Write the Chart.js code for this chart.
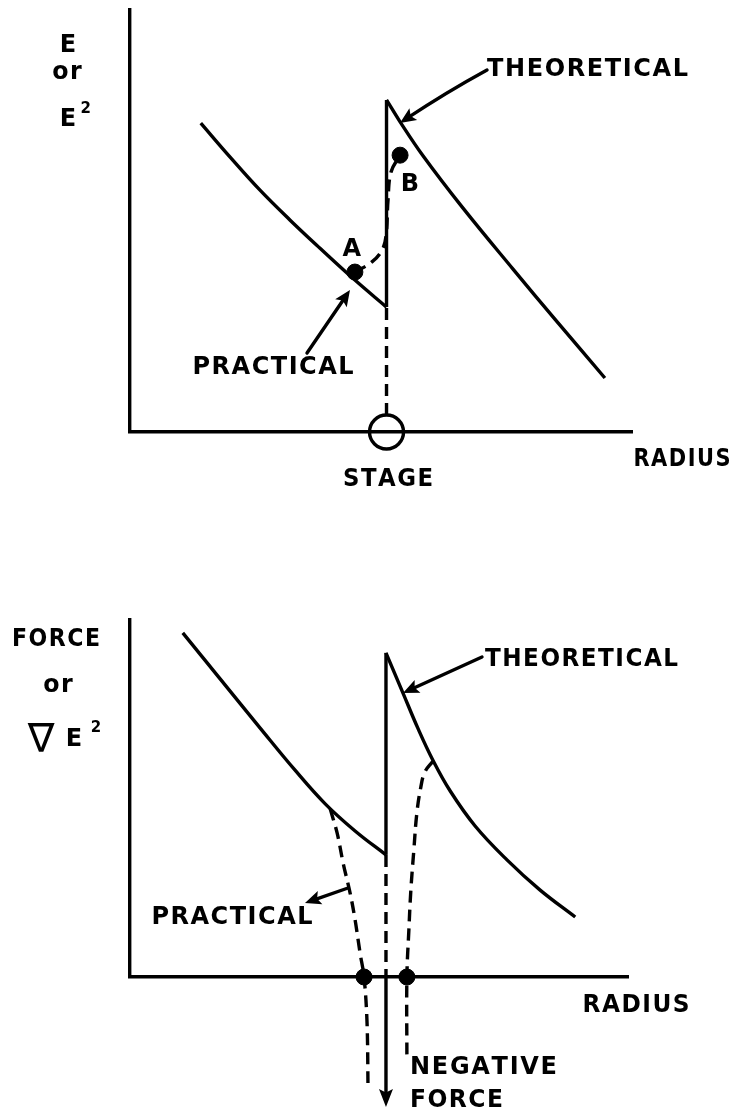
<!DOCTYPE html>
<html><head><meta charset="utf-8">
<script src="https://cdn.jsdelivr.net/npm/chart.js@4.4.1/dist/chart.umd.min.js"></script>
<style>
html,body{margin:0;padding:0;background:#fff;}
#wrap{position:relative;width:734px;height:1110px;overflow:hidden;background:#fff;}
canvas{position:absolute;left:0;}
#top{top:0;} #bot{top:560px;}
</style></head><body>
<div id="wrap"><canvas id="top" width="734" height="500"></canvas><canvas id="bot" width="734" height="550"></canvas></div>
<script>
// ---------- DATA (x = radius, y = E / force; arbitrary units) ----------
// Upper panel: E or E^2 vs radius
const topTheoryLeft  = [[1.41,7.32],[1.99,6.52],[2.59,5.73],[3.19,5.02],[3.78,4.36],[4.48,3.60],[5.11,2.96]];
const topJump        = [[5.11,2.96],[5.11,7.87]];
const topTheoryRight = [[5.11,7.87],[5.38,7.35],[5.84,6.54],[6.63,5.31],[7.63,3.86],[8.51,2.61],[9.46,1.28]];
const topPractical   = [[4.48,3.79],[4.82,4.03],[5.02,4.31],[5.10,4.64],[5.14,5.50],[5.20,6.16],[5.38,6.56]];
const topStageDrop   = [[5.11,2.94],[5.11,0.40]];
const topPointsAB    = [[4.48,3.79],[5.38,6.56]];
const topStage       = [[5.11,0]];

// Lower panel: force or grad E^2 vs radius
const botTheoryLeft     = [[1.06,9.64],[1.81,8.35],[2.61,6.98],[3.31,5.80],[3.92,4.85],[4.52,4.09],[5.14,3.42]];
const botJump           = [[5.14,3.42],[5.14,9.08]];
const botTheoryRight    = [[5.14,9.08],[5.48,7.96],[5.78,6.97],[6.08,6.08],[6.43,5.21],[6.93,4.23],[7.57,3.28],[8.23,2.44],[8.94,1.68]];
const botPracticalLeft  = [[4.02,4.71],[4.16,4.03],[4.28,3.19],[4.42,2.35],[4.52,1.60],[4.62,0.67],[4.70,0],[4.76,-1.29],[4.78,-3.17]];
const botPracticalRight = [[6.08,6.04],[5.92,5.74],[5.84,5.32],[5.76,4.59],[5.70,3.56],[5.64,2.44],[5.60,1.32],[5.56,0],[5.56,-2.24]];
const botStageDrop      = [[5.14,3.42],[5.14,0]];
const botNegative       = [[5.14,0],[5.14,-3.25]];
const botCrossings      = [[4.70,0],[5.56,0]];

// ---------- helpers ----------
const FONT = '"DejaVu Sans", "Liberation Sans", sans-serif';
const LW = 3.4;
const xy = a => a.map(p => ({x:p[0], y:p[1]}));

function line(data, opts={}) {
  return Object.assign({
    data: xy(data), showLine: true, borderColor: '#000', borderWidth: LW,
    pointRadius: 0, tension: 0.4, clip: false, fill: false,
    borderCapStyle: 'butt', borderJoinStyle: 'round'
  }, opts);
}
function dots(data, r, opts={}) {
  return Object.assign({
    data: xy(data), showLine: false, pointRadius: r, pointBackgroundColor: '#000',
    pointBorderColor: '#000', pointBorderWidth: 1, clip: false
  }, opts);
}
function P(chart, p){ return [chart.scales.x.getPixelForValue(p[0]), chart.scales.y.getPixelForValue(p[1])]; }

function drawLabel(ctx, chart, L){
  const [x,y] = P(chart, L.at);
  const size = L.size || 24;
  ctx.font = `${L.weight || 'bold'} ${size}px ${L.family || FONT}`;
  const chars = [...L.text];
  let ws = chars.map(c => ctx.measureText(c).width);
  let tot = ws.reduce((a,b)=>a+b,0);
  const w = L.width || tot;
  const n = chars.length;
  let sx = 1;
  if (n > 1 && (w - tot)/(n-1) < 1.5) { sx = (w - 1.5*(n-1)) / tot; ws = ws.map(v => v*sx); tot *= sx; }
  const sp = n > 1 ? (w - tot)/(n-1) : 0;
  let cx = L.align === 'center' ? x - w/2 : x;
  const base = y + (L.cap || 0.365) * size;
  ctx.textAlign = 'left'; ctx.textBaseline = 'alphabetic'; ctx.fillStyle = '#000';
  chars.forEach((c,i) => {
    ctx.save(); ctx.translate(cx, base); ctx.scale(sx, 1); ctx.fillText(c, 0, 0); ctx.restore();
    cx += ws[i] + sp;
  });
}
function drawArrow(ctx, chart, A){
  const p0 = P(chart, A.from), p1 = P(chart, A.to);
  const c = A.via ? P(chart, A.via) : null;
  const dir = c ? [p1[0]-c[0], p1[1]-c[1]] : [p1[0]-p0[0], p1[1]-p0[1]];
  const len = Math.hypot(dir[0], dir[1]); const ux = dir[0]/len, uy = dir[1]/len;
  const hl = A.head || 16, hw = A.hw || 7;
  if (!A.headOnly) {
    ctx.strokeStyle = '#000'; ctx.lineWidth = A.lw || LW; ctx.lineCap = 'round';
    ctx.beginPath(); ctx.moveTo(p0[0], p0[1]);
    const ex = p1[0]-ux*hl*0.6, ey = p1[1]-uy*hl*0.6;
    if (c) ctx.quadraticCurveTo(c[0], c[1], ex, ey); else ctx.lineTo(ex, ey);
    ctx.stroke();
  }
  ctx.beginPath(); ctx.moveTo(p1[0], p1[1]);
  ctx.lineTo(p1[0]-ux*hl - uy*hw, p1[1]-uy*hl + ux*hw);
  ctx.lineTo(p1[0]-ux*hl*0.8, p1[1]-uy*hl*0.8);
  ctx.lineTo(p1[0]-ux*hl + uy*hw, p1[1]-uy*hl - ux*hw);
  ctx.closePath(); ctx.fillStyle = '#000'; ctx.fill();
}
function sketchPlugin(cfg){
  return {
    id: 'sketch',
    afterDraw(chart){
      const ctx = chart.ctx; ctx.save();
      (cfg.arrows||[]).forEach(a => drawArrow(ctx, chart, a));
      (cfg.labels||[]).forEach(l => drawLabel(ctx, chart, l));
      ctx.restore();
    }
  };
}
function axis(){
  return { type:'linear', min:0, max:10,
    grid:{display:false, drawTicks:false}, ticks:{display:false},
    border:{display:true, color:'#000', width:LW} };
}
function makeChart(id, datasets, padding, cfg){
  return new Chart(document.getElementById(id), {
    type: 'scatter',
    data: { datasets },
    options: {
      responsive:false, animation:false, events:[],
      layout:{ padding, autoPadding:false },
      plugins:{ legend:{display:false}, tooltip:{enabled:false} },
      scales:{ x: axis(), y: axis() }
    },
    plugins:[ sketchPlugin(cfg) ]
  });
}
const DASH = [12,7];

// ---------- upper panel ----------
makeChart('top', [
  line(topTheoryLeft),
  line(topJump, {tension:0}),
  line(topTheoryRight),
  line(topPractical, {borderDash:DASH}),
  line(topStageDrop, {borderDash:DASH, tension:0}),
  dots(topPointsAB, 8),
  dots(topStage, 17, {pointBackgroundColor:'rgba(0,0,0,0)', pointBorderWidth:LW})
], {left:130, right:102, top:10, bottom:68}, {
  labels:[
    {text:'E',  at:[-1.235, 9.22], align:'center'},
    {text:'or', at:[-1.255, 8.58], align:'center', size:25},
    {text:'E',  at:[-1.235, 7.46], align:'center'},
    {text:'2',  at:[-0.88, 7.70], align:'center', size:15},
    {text:'THEORETICAL', at:[7.112, 8.65], width:201},
    {text:'A', at:[4.42, 4.384], align:'center'},
    {text:'B', at:[5.578, 5.924], align:'center'},
    {text:'PRACTICAL', at:[2.849, 1.588], align:'center', width:161},
    {text:'STAGE', at:[5.139, -1.066], align:'center', width:90},
    {text:'RADIUS', at:[10.996, -0.592], align:'center', width:97}
  ],
  arrows:[
    {from:[7.112, 8.578], via:[6.30, 8.05], to:[5.378, 7.322]},
    {from:[3.526, 1.872], to:[4.382, 3.365]}
  ]
});

// ---------- lower panel ----------
makeChart('bot', [
  line(botTheoryLeft),
  line(botJump, {tension:0}),
  line(botTheoryRight),
  line(botPracticalLeft, {borderDash:DASH, tension:0.35}),
  line(botPracticalRight, {borderDash:DASH}),
  line(botStageDrop, {borderDash:DASH, tension:0}),
  line(botNegative, {tension:0}),
  dots(botCrossings, 8)
], {left:130, right:106, top:60, bottom:133}, {
  labels:[
    {text:'FORCE', at:[-1.486, 9.524], align:'center', width:88},
    {text:'or', at:[-1.446, 8.235], align:'center', size:25},
    {text:'\u2207', at:[-1.787, 6.70], align:'center', size:40, weight:'normal', family:'"DejaVu Sans", sans-serif', cap:0.36},
    {text:'E', at:[-1.124, 6.723], align:'center'},
    {text:'2', at:[-0.683, 7.003], align:'center', size:15},
    {text:'THEORETICAL', at:[7.129, 8.964], width:193},
    {text:'PRACTICAL', at:[2.048, 1.737], align:'center', width:161},
    {text:'RADIUS', at:[10.161, -0.728], align:'center', width:107},
    {text:'NEGATIVE', at:[5.622, -2.465], width:147},
    {text:'FORCE', at:[5.622, -3.389], width:93}
  ],
  arrows:[
    {from:[7.068, 8.964], to:[5.482, 7.955]},
    {from:[4.378, 2.493], to:[3.514, 2.073]},
    {from:[5.14, -3.0], to:[5.14, -3.64], head:18, hw:7, headOnly:true}
  ]
});
</script>
</body></html>
